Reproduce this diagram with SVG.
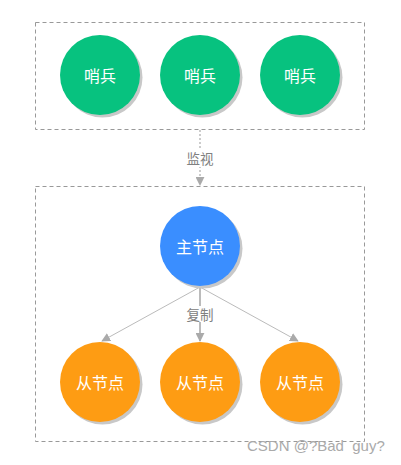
<svg xmlns="http://www.w3.org/2000/svg" width="401" height="465" viewBox="0 0 401 465">
<style>
.box{fill:none;stroke:#999;stroke-width:1;stroke-dasharray:4 3}
.sh{fill:#c8c8c8}
.node-text{font-family:"Noto Sans CJK SC","Liberation Sans",sans-serif;font-size:16px;fill:#fff;text-anchor:middle;dominant-baseline:central}
.lbl{font-family:"Noto Sans CJK SC","Liberation Sans",sans-serif;font-size:13.5px;fill:#808080;text-anchor:middle;dominant-baseline:central}
.edge{stroke:#bbb;stroke-width:1;fill:none}
</style>
<defs>
<marker id="ah" viewBox="0 0 10 10" refX="9" refY="5" markerWidth="9" markerHeight="9" markerUnits="userSpaceOnUse" orient="auto">
<path d="M0,0 L10,5 L0,10 z" fill="#aaa"/>
</marker>
</defs>
<rect width="401" height="465" fill="#fff"/>
<rect class="box" x="35.5" y="22.5" width="329" height="107"/>
<rect class="box" x="35.5" y="186.5" width="329" height="255"/>
<g id="connectors">
<line x1="200" y1="130" x2="200" y2="185" stroke="#ccc" stroke-width="2" stroke-dasharray="2 2" marker-end="url(#ah)"/>
<rect x="183" y="149" width="34" height="18" fill="#fff"/>
<text class="lbl" x="200" y="158">监视</text>
<line class="edge" x1="200" y1="287" x2="102" y2="341" marker-end="url(#ah)"/>
<line x1="200" y1="287" x2="200" y2="341" stroke="#bbb" stroke-width="2" marker-end="url(#ah)"/>
<line class="edge" x1="200" y1="287" x2="298" y2="341" marker-end="url(#ah)"/>
<rect x="183" y="306" width="34" height="16" fill="#fff"/>
<text class="lbl" x="200" y="314">复制</text>
</g>
<g id="sentinel1"><circle class="sh" cx="102.5" cy="77.5" r="40"/><circle cx="100" cy="75" r="40" fill="#07c27f"/><text class="node-text" x="100" y="75">哨兵</text></g>
<g id="sentinel2"><circle class="sh" cx="202.5" cy="77.5" r="40"/><circle cx="200" cy="75" r="40" fill="#07c27f"/><text class="node-text" x="200" y="75">哨兵</text></g>
<g id="sentinel3"><circle class="sh" cx="302.5" cy="77.5" r="40"/><circle cx="300" cy="75" r="40" fill="#07c27f"/><text class="node-text" x="300" y="75">哨兵</text></g>
<g id="master"><circle class="sh" cx="202.5" cy="248.5" r="40"/><circle cx="200" cy="246" r="40" fill="#3a8eff"/><text class="node-text" x="200" y="246">主节点</text></g>
<g id="slave1"><circle class="sh" cx="102.5" cy="384.5" r="40"/><circle cx="100" cy="382" r="40" fill="#fe9c13"/><text class="node-text" x="100" y="382">从节点</text></g>
<g id="slave2"><circle class="sh" cx="202.5" cy="384.5" r="40"/><circle cx="200" cy="382" r="40" fill="#fe9c13"/><text class="node-text" x="200" y="382">从节点</text></g>
<g id="slave3"><circle class="sh" cx="302.5" cy="384.5" r="40"/><circle cx="300" cy="382" r="40" fill="#fe9c13"/><text class="node-text" x="300" y="382">从节点</text></g>
<text x="247" y="451" font-family="Liberation Sans,sans-serif" font-size="15" fill="#aaa" xml:space="preserve">CSDN @?Bad  guy?</text>
</svg>
